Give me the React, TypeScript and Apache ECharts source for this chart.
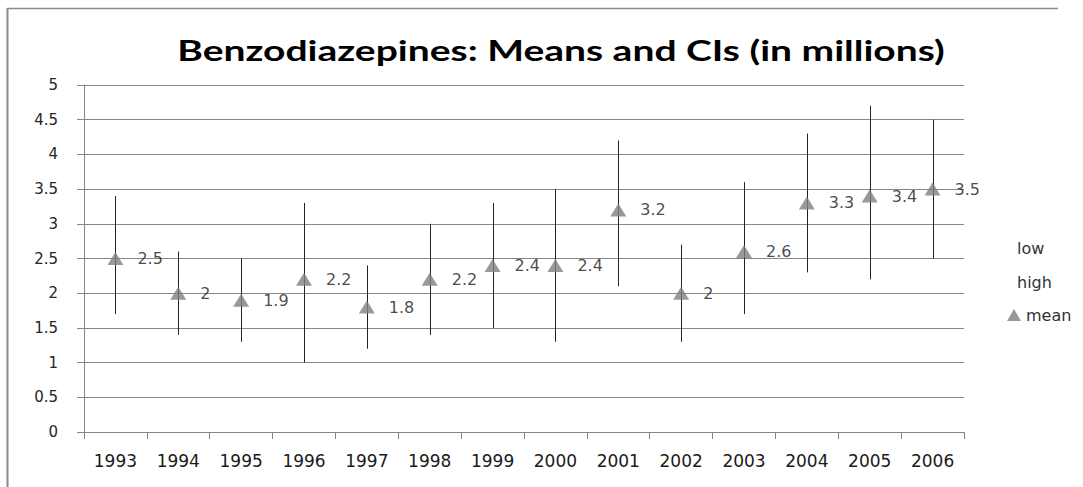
import React, { useEffect, useRef } from "react";
import * as echarts from "echarts";

const years = ["1993", "1994", "1995", "1996", "1997", "1998", "1999", "2000", "2001", "2002", "2003", "2004", "2005", "2006"];
const lowValues = [1.7, 1.4, 1.3, 1.0, 1.2, 1.4, 1.5, 1.3, 2.1, 1.3, 1.7, 2.3, 2.2, 2.5];
const highValues = [3.4, 2.6, 2.5, 3.3, 2.4, 3.0, 3.3, 3.5, 4.2, 2.7, 3.6, 4.3, 4.7, 4.5];
const meanValues = [2.5, 2, 1.9, 2.2, 1.8, 2.2, 2.4, 2.4, 3.2, 2, 2.6, 3.3, 3.4, 3.5];
const titleText = "Benzodiazepines: Means and CIs (in millions)";

const FONT = "'DejaVu Sans', Verdana, sans-serif";
const TITLE_FONT = "Lato, 'Open Sans', sans-serif";

function measure(text: string, font: string): number {
  const c = document.createElement("canvas");
  const ctx = c.getContext("2d");
  if (!ctx) return 700;
  ctx.font = font;
  return ctx.measureText(text).width;
}

export default function App() {
  const ref = useRef<HTMLDivElement>(null);
  useEffect(() => {
    if (!ref.current) return;
    const chart = echarts.init(ref.current, null, { renderer: "svg" });
    const titleFontSize = 28;
    const w = measure(titleText, `bold ${titleFontSize}px ${TITLE_FONT}`);
    const scaleX = 768 / (w || 768);

    const rangeData = years.map((_, i) => [i, lowValues[i], highValues[i]]);

    chart.setOption({
      animation: false,
      backgroundColor: "#ffffff",
      graphic: [
        {
          type: "line",
          shape: { x1: 7.5, y1: 8, x2: 7.5, y2: 487 },
          style: { stroke: "#8a8a8a", lineWidth: 2 },
        },
        {
          type: "line",
          shape: { x1: 7, y1: 8.5, x2: 1058, y2: 8.5 },
          style: { stroke: "#8a8a8a", lineWidth: 1.5 },
        },
        {
          type: "text",
          x: 561,
          y: 50,
          scaleX: scaleX,
          style: {
            text: titleText,
            align: "center",
            verticalAlign: "middle",
            font: `bold ${titleFontSize}px ${TITLE_FONT}`,
            fill: "#000000",
          },
        },
      ],
      grid: { left: 84, top: 85, width: 880, height: 347 },
      legend: [
        {
          orient: "vertical",
          left: 1007,
          top: 235,
          itemWidth: 0,
          itemHeight: 14,
          itemGap: 18,
          selectedMode: false,
          textStyle: { fontFamily: FONT, fontSize: 16, color: "#333333" },
          data: [
            { name: "low", icon: "rect", itemStyle: { opacity: 0 }, lineStyle: { opacity: 0 } },
            { name: "high", icon: "rect", itemStyle: { opacity: 0 }, lineStyle: { opacity: 0 } },
          ],
        },
        {
          orient: "vertical",
          left: 1002,
          top: 302,
          itemWidth: 14,
          itemHeight: 12,
          selectedMode: false,
          textStyle: { fontFamily: FONT, fontSize: 16, color: "#333333" },
          data: [{ name: "mean", icon: "triangle", itemStyle: { color: "#808080" } }],
        },
      ],
      xAxis: {
        type: "category",
        data: years,
        boundaryGap: true,
        axisLine: { lineStyle: { color: "#868686", width: 1 } },
        axisTick: { show: true, length: 7, lineStyle: { color: "#868686" } },
        axisLabel: { fontFamily: FONT, fontSize: 17, color: "#1a1a1a", margin: 20 },
        splitLine: { show: false },
      },
      yAxis: {
        type: "value",
        min: 0,
        max: 5,
        interval: 0.5,
        axisLine: { show: true, lineStyle: { color: "#868686", width: 1 } },
        axisTick: { show: true, length: 7, lineStyle: { color: "#868686" } },
        axisLabel: { fontFamily: FONT, fontSize: 15, color: "#262626", margin: 26 },
        splitLine: { show: true, lineStyle: { color: "#868686", width: 1 } },
      },
      series: [
        {
          name: "low",
          type: "line",
          data: lowValues,
          symbol: "none",
          silent: true,
          lineStyle: { opacity: 0 },
          itemStyle: { opacity: 0 },
        },
        {
          name: "high",
          type: "line",
          data: highValues,
          symbol: "none",
          silent: true,
          lineStyle: { opacity: 0 },
          itemStyle: { opacity: 0 },
        },
        {
          name: "range",
          type: "custom",
          data: rangeData,
          silent: true,
          z: 2,
          renderItem: (params: any, api: any) => {
            const idx = api.value(0);
            const lo = api.coord([idx, api.value(1)]);
            const hi = api.coord([idx, api.value(2)]);
            const x = Math.round(lo[0]) + 0.5;
            return {
              type: "line",
              shape: { x1: x, y1: lo[1], x2: x, y2: hi[1] },
              style: { stroke: "#222222", lineWidth: 1 },
            };
          },
        },
        {
          name: "mean",
          type: "scatter",
          data: meanValues,
          symbol: "triangle",
          symbolSize: [16, 13],
          z: 3,
          itemStyle: { color: "#808080" },
          label: {
            show: true,
            position: "right",
            distance: 14,
            formatter: "{c}",
            fontFamily: FONT,
            fontSize: 16,
            color: "#1a1a1a",
          },
        },
      ],
    });
    return () => chart.dispose();
  }, []);
  return (
    <div
      ref={ref}
      style={{ position: "fixed", left: 0, top: 0, width: 1083, height: 487, background: "#fff" }}
    />
  );
}
